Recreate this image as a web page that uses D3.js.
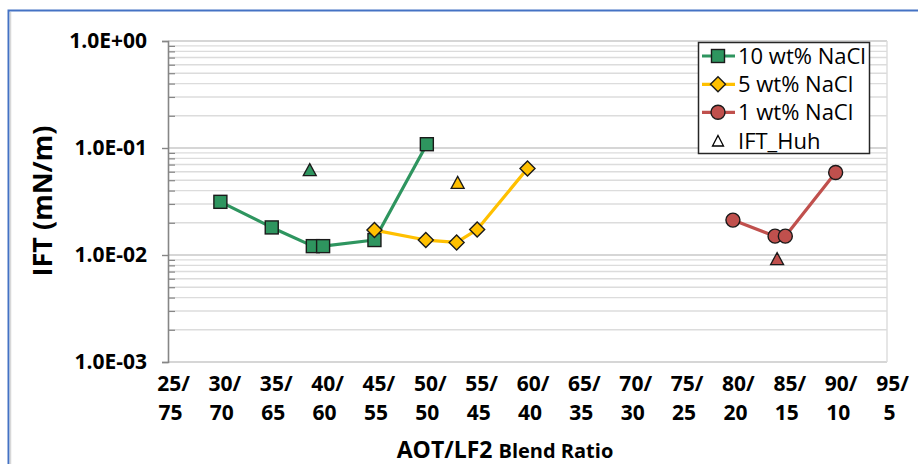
<!DOCTYPE html>
<html>
<head>
<meta charset="utf-8">
<script src="https://cdn.jsdelivr.net/npm/d3@7/dist/d3.min.js"></script>
<style>
  body { margin: 0; background: #fff; }
  svg text { font-family: "Open Sans", sans-serif; fill: #000; }
</style>
</head>
<body>
<div id="plot"></div>
<script>
// blend ratio ticks (AOT/LF2)
var ratioTicks = [25, 30, 35, 40, 45, 50, 55, 60, 65, 70, 75, 80, 85, 90, 95];

var nacl10X = [30.1, 35.1, 39.1, 40.1, 45.1, 50.2];
var nacl10Y = [0.0314, 0.0181, 0.0121, 0.0121, 0.0138, 0.1085];
var nacl5X = [45.1, 50.1, 53.1, 55.1, 60.0];
var nacl5Y = [0.0171, 0.0138, 0.0131, 0.0173, 0.0644];
var nacl1X = [80.0, 84.1, 85.1, 90.0];
var nacl1Y = [0.0212, 0.0150, 0.0150, 0.0590];
var huhX = [38.8, 53.2, 84.3];
var huhY = [0.0621, 0.0472, 0.00916];
var huhSeries = [0, 1, 2];

var seriesNames = ['10 wt% NaCl', '5 wt% NaCl', '1 wt% NaCl'];
var seriesColors = ['#2E955F', '#FFC000', '#C0504D'];
var seriesShapes = ['square', 'diamond', 'circle'];

var W = 918, H = 464;
var plotL = 168, plotR = 887, plotT = 41, plotB = 362;

var svg = d3.select('#plot').append('svg')
  .attr('width', W).attr('height', H);

// chart frame
svg.append('rect')
  .attr('x', 8.5).attr('y', 10.5)
  .attr('width', W + 20).attr('height', H + 20)
  .attr('fill', 'none').attr('stroke', '#4472C4').attr('stroke-width', 2);
svg.append('line')
  .attr('x1', 10.5).attr('x2', 10.5).attr('y1', 12).attr('y2', H)
  .attr('stroke', '#d8d8d8').attr('stroke-width', 1.5);

var x = d3.scaleLinear().domain([25, 95]).range([plotL, plotR]);
var y = d3.scaleLog().domain([0.001, 1]).range([plotB, plotT]);

var majors = [0.001, 0.01, 0.1, 1];
var minors = [];
[0.001, 0.01, 0.1].forEach(function (d) {
  for (var m = 2; m <= 9; m++) minors.push(m * d);
});

// gridlines
var grid = svg.append('g');
minors.forEach(function (v) {
  grid.append('line')
    .attr('x1', plotL).attr('x2', plotR)
    .attr('y1', y(v)).attr('y2', y(v))
    .attr('stroke', '#DCDCDC').attr('stroke-width', 1.4);
});
majors.forEach(function (v) {
  grid.append('line')
    .attr('x1', plotL).attr('x2', plotR)
    .attr('y1', y(v)).attr('y2', y(v))
    .attr('stroke', '#C8C8C8').attr('stroke-width', 1.6);
});
grid.append('line')
  .attr('x1', plotR).attr('x2', plotR).attr('y1', plotT).attr('y2', plotB)
  .attr('stroke', '#DCDCDC').attr('stroke-width', 1.4);

// y axis
function sciFormat(v) {
  var e = Math.round(Math.log10(v));
  return '1.0E' + (e < 0 ? '-' : '+') + String(Math.abs(e)).padStart(2, '0');
}
var yAxis = svg.append('g')
  .attr('transform', 'translate(' + plotL + ',0)')
  .call(d3.axisLeft(y).tickValues(majors).tickSize(6).tickPadding(15).tickFormat(sciFormat));
yAxis.select('.domain').attr('stroke', '#868686').attr('stroke-width', 1.6);
yAxis.selectAll('.tick line').attr('stroke', '#868686').attr('stroke-width', 1.4);
yAxis.selectAll('.tick text')
  .style('font-family', '"Open Sans", sans-serif')
  .style('font-size', '21px').style('font-weight', 'bold').attr('fill', '#000');

var yMinor = svg.append('g')
  .attr('transform', 'translate(' + plotL + ',0)')
  .call(d3.axisLeft(y).tickValues(minors).tickSize(-7).tickFormat(''));
yMinor.select('.domain').remove();
yMinor.selectAll('.tick line').attr('stroke', '#868686').attr('stroke-width', 1.2);

// x axis labels (two lines each)
var xAxis = svg.append('g')
  .attr('transform', 'translate(0,' + plotB + ')')
  .call(d3.axisBottom(x).tickValues(ratioTicks).tickSize(0).tickFormat(''));
xAxis.select('.domain').remove();
xAxis.selectAll('.tick').each(function (d) {
  var t = d3.select(this).append('text')
    .attr('text-anchor', 'middle')
    .style('font-size', '21px').style('font-weight', 'bold').attr('fill', '#000');
  t.append('tspan').attr('x', 5).attr('y', 29).text(d + '/');
  t.append('tspan').attr('x', 2).attr('y', 58).text(100 - d);
});

// axis titles
var xt = svg.append('text')
  .attr('x', 505).attr('y', 458)
  .attr('text-anchor', 'middle')
  .style('font-weight', 'bold');
xt.append('tspan').style('font-size', '23px').text('AOT/LF2 ');
xt.append('tspan').style('font-size', '20px').text('Blend Ratio');

svg.append('text')
  .attr('transform', 'translate(52,201) rotate(-90)')
  .attr('text-anchor', 'middle')
  .style('font-size', '27px').style('font-weight', 'bold')
  .text('IFT (mN/m)');

// markers
function drawMarker(g, shape, cx, cy, color) {
  if (shape === 'square') {
    g.append('rect').attr('x', cx - 6.5).attr('y', cy - 6.5)
      .attr('width', 13).attr('height', 13)
      .attr('fill', color).attr('stroke', '#1a1a1a').attr('stroke-width', 1.4);
  } else if (shape === 'diamond') {
    g.append('path')
      .attr('d', 'M' + cx + ',' + (cy - 7.5) + 'L' + (cx + 7.5) + ',' + cy +
        'L' + cx + ',' + (cy + 7.5) + 'L' + (cx - 7.5) + ',' + cy + 'Z')
      .attr('fill', color).attr('stroke', '#1a1a1a').attr('stroke-width', 1.4);
  } else if (shape === 'circle') {
    g.append('circle').attr('cx', cx).attr('cy', cy).attr('r', 7)
      .attr('fill', color).attr('stroke', '#1a1a1a').attr('stroke-width', 1.4);
  } else if (shape === 'triangle') {
    g.append('path')
      .attr('d', 'M' + cx + ',' + (cy - 6.5) + 'L' + (cx + 6.5) + ',' + (cy + 5.5) +
        'L' + (cx - 6.5) + ',' + (cy + 5.5) + 'Z')
      .attr('fill', color).attr('stroke', '#1a1a1a').attr('stroke-width', 1.3);
  }
}

var seriesX = [nacl10X, nacl5X, nacl1X];
var seriesY = [nacl10Y, nacl5Y, nacl1Y];
var line = d3.line().x(function (d) { return x(d[0]); }).y(function (d) { return y(d[1]); });

var marks = svg.append('g');
// draw in order 1 wt%, 10 wt%, 5 wt% so yellow sits on green at 45/55
[2, 0, 1].forEach(function (s) {
  var pts = d3.zip(seriesX[s], seriesY[s]);
  marks.append('path').datum(pts)
    .attr('d', line).attr('fill', 'none')
    .attr('stroke', seriesColors[s]).attr('stroke-width', 3.2)
    .attr('stroke-linejoin', 'round');
  pts.forEach(function (p) {
    drawMarker(marks, seriesShapes[s], x(p[0]), y(p[1]), seriesColors[s]);
  });
});

huhX.forEach(function (v, i) {
  drawMarker(marks, 'triangle', x(v), y(huhY[i]), seriesColors[huhSeries[i]]);
});

// legend
var lg = svg.append('g');
lg.append('rect')
  .attr('x', 698.5).attr('y', 42.5).attr('width', 171).attr('height', 111)
  .attr('fill', '#fff').attr('stroke', '#262626').attr('stroke-width', 1.5);
var rowY = [56, 84.3, 112.3, 141];
seriesNames.forEach(function (name, i) {
  lg.append('line')
    .attr('x1', 702).attr('x2', 735).attr('y1', rowY[i]).attr('y2', rowY[i])
    .attr('stroke', seriesColors[i]).attr('stroke-width', 3.2);
  drawMarker(lg, seriesShapes[i], 718, rowY[i], seriesColors[i]);
  lg.append('text').attr('x', 738).attr('y', rowY[i]).attr('dy', '0.36em')
    .style('font-size', '22px').text(name);
});
lg.append('path')
  .attr('d', 'M718,' + (rowY[3] - 5.5) + 'L723.5,' + (rowY[3] + 5) + 'L712.5,' + (rowY[3] + 5) + 'Z')
  .attr('fill', 'none').attr('stroke', '#000').attr('stroke-width', 1.3);
lg.append('text').attr('x', 738).attr('y', rowY[3]).attr('dy', '0.36em')
  .style('font-size', '22px').text('IFT_Huh');
</script>
</body>
</html>
